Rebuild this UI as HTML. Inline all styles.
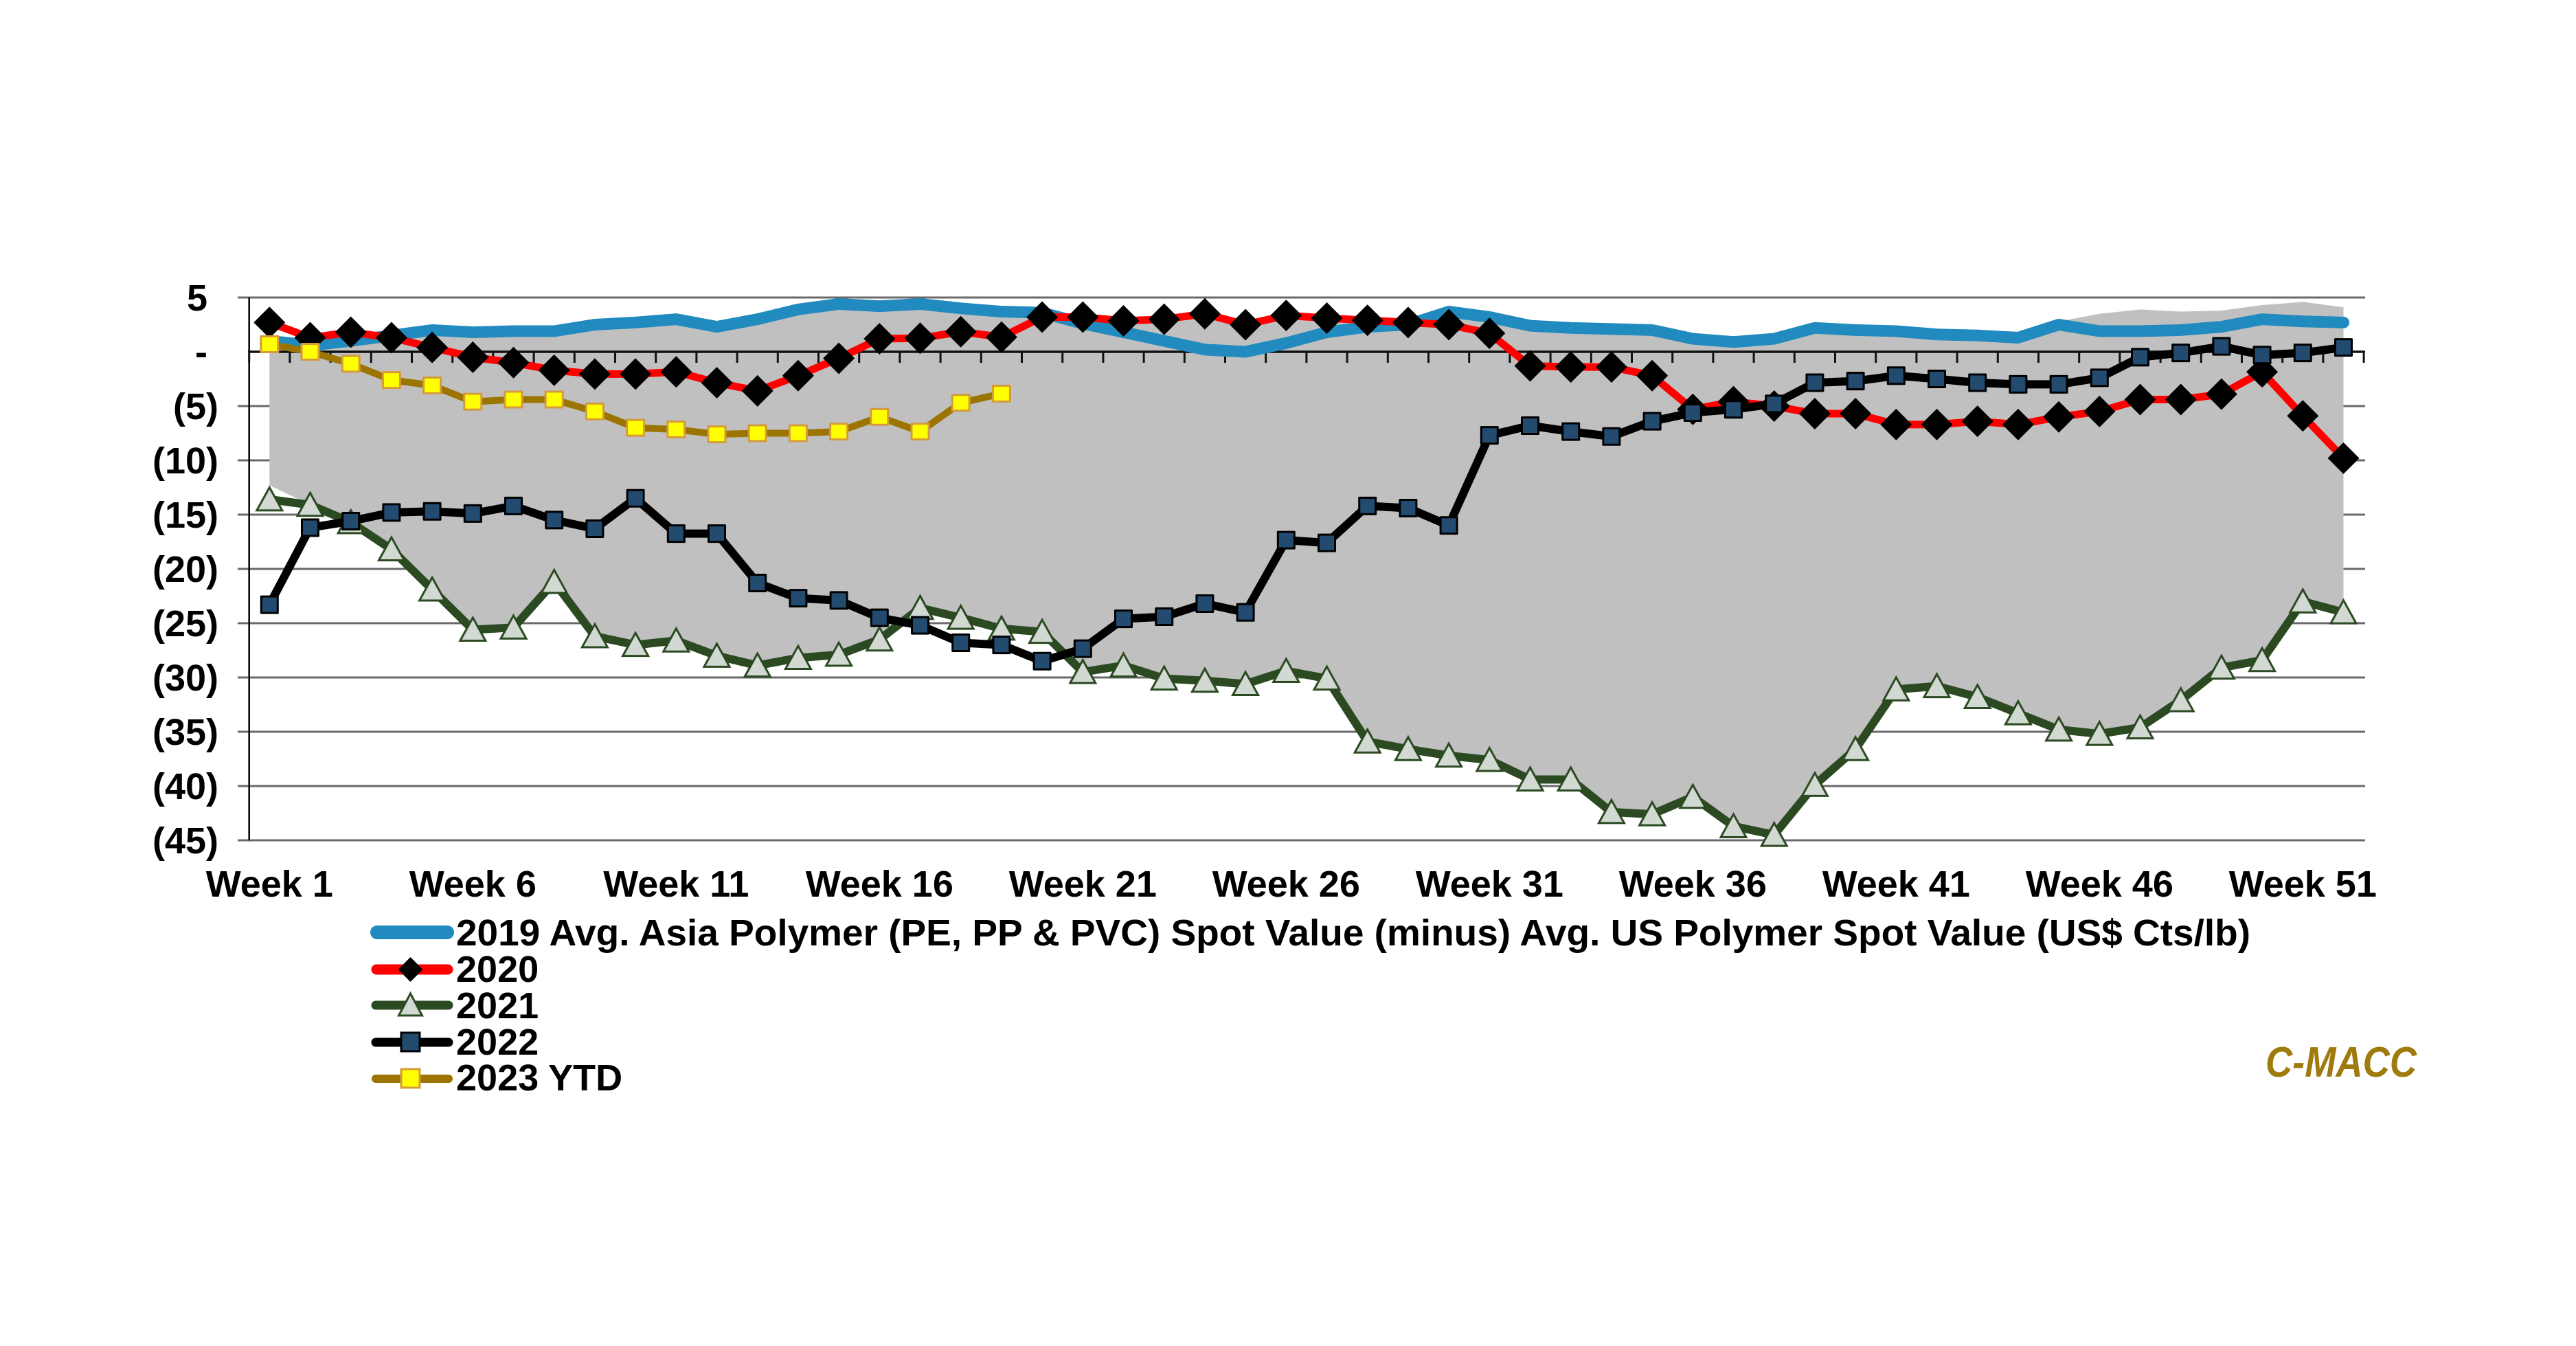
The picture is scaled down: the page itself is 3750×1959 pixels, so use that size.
<!DOCTYPE html>
<html>
<head>
<meta charset="utf-8">
<style>
html,body{margin:0;padding:0;background:#fff;}
svg{display:block;}
</style>
</head>
<body>
<svg xmlns="http://www.w3.org/2000/svg" xmlns:xlink="http://www.w3.org/1999/xlink" width="3750" height="1959" viewBox="0 0 3750 1959" font-family="'Liberation Sans', Arial, sans-serif">
<defs>
  <path id="Dm" transform="scale(.0168919 -.0632911)" d="M0,-23L23,0L0,23L-23,0Z" fill="#000"/>
  <path id="Tm" transform="scale(.0168919 -.0632911)" d="M0,-17.5L18.5,16L-18.5,16Z" fill="#d2d9d2" stroke="#2b4a22" stroke-width="3" stroke-linejoin="miter"/>
  <rect id="Sm" transform="scale(.0168919 -.0632911)" x="-12" y="-12" width="24" height="24" fill="#234a6f" stroke="#000" stroke-width="3"/>
  <rect id="Ym" transform="scale(.0168919 -.0632911)" x="-12.5" y="-11.5" width="25" height="23" fill="#ffff00" stroke="#d49a3c" stroke-width="3"/>
</defs>

<rect x="0" y="0" width="3750" height="1959" fill="#fff"/>

<!-- gridlines -->
<g stroke="#6a6a6a" stroke-width="3">
  <line x1="346" y1="433" x2="3443" y2="433"/>
  <line x1="346" y1="591" x2="3443" y2="591"/>
  <line x1="346" y1="670" x2="3443" y2="670"/>
  <line x1="346" y1="749" x2="3443" y2="749"/>
  <line x1="346" y1="828" x2="3443" y2="828"/>
  <line x1="346" y1="907" x2="3443" y2="907"/>
  <line x1="346" y1="986" x2="3443" y2="986"/>
  <line x1="346" y1="1065" x2="3443" y2="1065"/>
  <line x1="346" y1="1144" x2="3443" y2="1144"/>
  <line x1="346" y1="1223" x2="3443" y2="1223"/>
</g>

<g transform="translate(392.3 512) scale(59.2 -15.8)">
  <!-- gray range area -->
  <polygon fill="#c0c0c0" points="0,1.0 1,0.6 2,1.0 3,1.5 4,2.0 5,1.8 6,1.9 7,1.9 8,2.5 9,2.7 10,3.0 11,2.3 12,3.0 13,3.9 14,4.4 15,4.2 16,4.4 17,4.0 18,3.7 19,3.6 20,3.2 21,2.85 22,3.0 23,3.5 24,2.5 25,3.35 26,3.1 27,2.9 28,2.7 29,3.7 30,3.2 31,2.4 32,2.2 33,2.1 34,2.0 35,1.2 36,0.9 37,1.2 38,2.2 39,2.0 40,1.9 41,1.6 42,1.5 43,1.3 44,2.8 45,3.5 46,3.9 47,3.7 48,3.8 49,4.3 50,4.6 51,4.1 51,-24.0 50,-23.0 49,-28.4 48,-29.1 47,-32.1 46,-34.6 45,-35.2 44,-34.8 43,-33.3 42,-31.8 41,-30.8 40,-31.1 39,-36.6 38,-39.9 37,-44.5 36,-43.7 35,-41.0 34,-42.6 33,-42.4 32,-39.4 31,-39.4 30,-37.6 29,-37.2 28,-36.6 27,-35.9 26,-30.1 25,-29.4 24,-30.6 23,-30.3 22,-30.1 21,-28.9 20,-29.5 19,-25.8 18,-25.5 17,-24.5 16,-23.6 15,-26.5 14,-27.9 13,-28.2 12,-28.9 11,-28.0 10,-26.6 9,-27.0 8,-26.2 7,-21.2 6,-25.4 5,-25.6 4,-21.9 3,-18.2 2,-15.7 1,-14.1 0,-12.3"/>
</g>

<!-- axes -->
<line x1="362.7" y1="433" x2="362.7" y2="1223" stroke="#000" stroke-width="2.5"/>
<line x1="361" y1="512" x2="3443" y2="512" stroke="#111" stroke-width="3.5"/>
<line x1="361.2" y1="520" x2="3444" y2="520" stroke="#111" stroke-width="16" stroke-dasharray="3 56.2"/>

<g transform="translate(392.3 512) scale(59.2 -15.8)" fill="none" stroke-linejoin="round" stroke-linecap="round">
  <!-- 2019 -->
  <polyline vector-effect="non-scaling-stroke" stroke="#218abf" stroke-width="17" points="0,1.0 1,0.6 2,1.0 3,1.5 4,2.0 5,1.8 6,1.9 7,1.9 8,2.5 9,2.7 10,3.0 11,2.3 12,3.0 13,3.9 14,4.4 15,4.2 16,4.4 17,4.0 18,3.7 19,3.6 20,2.6 21,1.8 22,1.0 23,0.2 24,0.0 25,0.8 26,1.8 27,2.3 28,2.5 29,3.7 30,3.2 31,2.4 32,2.2 33,2.1 34,2.0 35,1.2 36,0.9 37,1.2 38,2.2 39,2.0 40,1.9 41,1.6 42,1.5 43,1.3 44,2.5 45,1.9 46,1.9 47,2.0 48,2.3 49,3.0 50,2.8 51,2.7"/>

  <!-- 2020 -->
  <polyline vector-effect="non-scaling-stroke" stroke="#ff0000" stroke-width="11" points="0,2.7 1,1.3 2,1.8 3,1.3 4,0.4 5,-0.5 6,-1.0 7,-1.7 8,-2.05 9,-2.05 10,-1.85 11,-2.85 12,-3.6 13,-2.2 14,-0.6 15,1.2 16,1.25 17,1.85 18,1.35 19,3.2 20,3.2 21,2.85 22,3.0 23,3.5 24,2.5 25,3.35 26,3.1 27,2.9 28,2.7 29,2.5 30,1.7 31,-1.3 32,-1.4 33,-1.4 34,-2.2 35,-5.3 36,-4.6 37,-5.0 38,-5.7 39,-5.7 40,-6.7 41,-6.7 42,-6.4 43,-6.7 44,-6.0 45,-5.5 46,-4.4 47,-4.4 48,-3.9 49,-1.85 50,-5.9 51,-9.8"/>
  <g>
    <use href="#Dm" x="0" y="2.7"/><use href="#Dm" x="1" y="1.3"/><use href="#Dm" x="2" y="1.8"/><use href="#Dm" x="3" y="1.3"/><use href="#Dm" x="4" y="0.4"/><use href="#Dm" x="5" y="-0.5"/><use href="#Dm" x="6" y="-1.0"/><use href="#Dm" x="7" y="-1.7"/><use href="#Dm" x="8" y="-2.05"/><use href="#Dm" x="9" y="-2.05"/><use href="#Dm" x="10" y="-1.85"/><use href="#Dm" x="11" y="-2.85"/><use href="#Dm" x="12" y="-3.6"/><use href="#Dm" x="13" y="-2.2"/><use href="#Dm" x="14" y="-0.6"/><use href="#Dm" x="15" y="1.2"/><use href="#Dm" x="16" y="1.25"/><use href="#Dm" x="17" y="1.85"/><use href="#Dm" x="18" y="1.35"/><use href="#Dm" x="19" y="3.2"/><use href="#Dm" x="20" y="3.2"/><use href="#Dm" x="21" y="2.85"/><use href="#Dm" x="22" y="3.0"/><use href="#Dm" x="23" y="3.5"/><use href="#Dm" x="24" y="2.5"/><use href="#Dm" x="25" y="3.35"/><use href="#Dm" x="26" y="3.1"/><use href="#Dm" x="27" y="2.9"/><use href="#Dm" x="28" y="2.7"/><use href="#Dm" x="29" y="2.5"/><use href="#Dm" x="30" y="1.7"/><use href="#Dm" x="31" y="-1.3"/><use href="#Dm" x="32" y="-1.4"/><use href="#Dm" x="33" y="-1.4"/><use href="#Dm" x="34" y="-2.2"/><use href="#Dm" x="35" y="-5.3"/><use href="#Dm" x="36" y="-4.6"/><use href="#Dm" x="37" y="-5.0"/><use href="#Dm" x="38" y="-5.7"/><use href="#Dm" x="39" y="-5.7"/><use href="#Dm" x="40" y="-6.7"/><use href="#Dm" x="41" y="-6.7"/><use href="#Dm" x="42" y="-6.4"/><use href="#Dm" x="43" y="-6.7"/><use href="#Dm" x="44" y="-6.0"/><use href="#Dm" x="45" y="-5.5"/><use href="#Dm" x="46" y="-4.4"/><use href="#Dm" x="47" y="-4.4"/><use href="#Dm" x="48" y="-3.9"/><use href="#Dm" x="49" y="-1.85"/><use href="#Dm" x="50" y="-5.9"/><use href="#Dm" x="51" y="-9.8"/>
  </g>

  <!-- 2021 -->
  <polyline vector-effect="non-scaling-stroke" stroke="#2b4a22" stroke-width="12" points="0,-13.6 1,-14.1 2,-15.7 3,-18.2 4,-21.9 5,-25.6 6,-25.4 7,-21.2 8,-26.2 9,-27.0 10,-26.6 11,-28.0 12,-28.9 13,-28.2 14,-27.9 15,-26.5 16,-23.6 17,-24.5 18,-25.5 19,-25.8 20,-29.5 21,-28.9 22,-30.1 23,-30.3 24,-30.6 25,-29.4 26,-30.1 27,-35.9 28,-36.6 29,-37.2 30,-37.6 31,-39.4 32,-39.4 33,-42.4 34,-42.6 35,-41.0 36,-43.7 37,-44.5 38,-39.9 39,-36.6 40,-31.1 41,-30.8 42,-31.8 43,-33.3 44,-34.8 45,-35.2 46,-34.6 47,-32.1 48,-29.1 49,-28.4 50,-23.0 51,-24.0"/>
  <g>
    <use href="#Tm" x="0" y="-13.6"/><use href="#Tm" x="1" y="-14.1"/><use href="#Tm" x="2" y="-15.7"/><use href="#Tm" x="3" y="-18.2"/><use href="#Tm" x="4" y="-21.9"/><use href="#Tm" x="5" y="-25.6"/><use href="#Tm" x="6" y="-25.4"/><use href="#Tm" x="7" y="-21.2"/><use href="#Tm" x="8" y="-26.2"/><use href="#Tm" x="9" y="-27.0"/><use href="#Tm" x="10" y="-26.6"/><use href="#Tm" x="11" y="-28.0"/><use href="#Tm" x="12" y="-28.9"/><use href="#Tm" x="13" y="-28.2"/><use href="#Tm" x="14" y="-27.9"/><use href="#Tm" x="15" y="-26.5"/><use href="#Tm" x="16" y="-23.6"/><use href="#Tm" x="17" y="-24.5"/><use href="#Tm" x="18" y="-25.5"/><use href="#Tm" x="19" y="-25.8"/><use href="#Tm" x="20" y="-29.5"/><use href="#Tm" x="21" y="-28.9"/><use href="#Tm" x="22" y="-30.1"/><use href="#Tm" x="23" y="-30.3"/><use href="#Tm" x="24" y="-30.6"/><use href="#Tm" x="25" y="-29.4"/><use href="#Tm" x="26" y="-30.1"/><use href="#Tm" x="27" y="-35.9"/><use href="#Tm" x="28" y="-36.6"/><use href="#Tm" x="29" y="-37.2"/><use href="#Tm" x="30" y="-37.6"/><use href="#Tm" x="31" y="-39.4"/><use href="#Tm" x="32" y="-39.4"/><use href="#Tm" x="33" y="-42.4"/><use href="#Tm" x="34" y="-42.6"/><use href="#Tm" x="35" y="-41.0"/><use href="#Tm" x="36" y="-43.7"/><use href="#Tm" x="37" y="-44.5"/><use href="#Tm" x="38" y="-39.9"/><use href="#Tm" x="39" y="-36.6"/><use href="#Tm" x="40" y="-31.1"/><use href="#Tm" x="41" y="-30.8"/><use href="#Tm" x="42" y="-31.8"/><use href="#Tm" x="43" y="-33.3"/><use href="#Tm" x="44" y="-34.8"/><use href="#Tm" x="45" y="-35.2"/><use href="#Tm" x="46" y="-34.6"/><use href="#Tm" x="47" y="-32.1"/><use href="#Tm" x="48" y="-29.1"/><use href="#Tm" x="49" y="-28.4"/><use href="#Tm" x="50" y="-23.0"/><use href="#Tm" x="51" y="-24.0"/>
  </g>

  <!-- 2022 -->
  <polyline vector-effect="non-scaling-stroke" stroke="#000" stroke-width="12" points="0,-23.3 1,-16.2 2,-15.6 3,-14.8 4,-14.7 5,-14.9 6,-14.2 7,-15.5 8,-16.3 9,-13.5 10,-16.75 11,-16.75 12,-21.3 13,-22.7 14,-22.9 15,-24.5 16,-25.2 17,-26.8 18,-27.0 19,-28.5 20,-27.35 21,-24.6 22,-24.4 23,-23.2 24,-24.0 25,-17.35 26,-17.6 27,-14.2 28,-14.4 29,-16.0 30,-7.7 31,-6.8 32,-7.35 33,-7.8 34,-6.4 35,-5.6 36,-5.3 37,-4.8 38,-2.85 39,-2.7 40,-2.2 41,-2.5 42,-2.85 43,-3.0 44,-3.0 45,-2.4 46,-0.5 47,-0.1 48,0.5 49,-0.3 50,-0.1 51,0.4"/>
  <g>
    <use href="#Sm" x="0" y="-23.3"/><use href="#Sm" x="1" y="-16.2"/><use href="#Sm" x="2" y="-15.6"/><use href="#Sm" x="3" y="-14.8"/><use href="#Sm" x="4" y="-14.7"/><use href="#Sm" x="5" y="-14.9"/><use href="#Sm" x="6" y="-14.2"/><use href="#Sm" x="7" y="-15.5"/><use href="#Sm" x="8" y="-16.3"/><use href="#Sm" x="9" y="-13.5"/><use href="#Sm" x="10" y="-16.75"/><use href="#Sm" x="11" y="-16.75"/><use href="#Sm" x="12" y="-21.3"/><use href="#Sm" x="13" y="-22.7"/><use href="#Sm" x="14" y="-22.9"/><use href="#Sm" x="15" y="-24.5"/><use href="#Sm" x="16" y="-25.2"/><use href="#Sm" x="17" y="-26.8"/><use href="#Sm" x="18" y="-27.0"/><use href="#Sm" x="19" y="-28.5"/><use href="#Sm" x="20" y="-27.35"/><use href="#Sm" x="21" y="-24.6"/><use href="#Sm" x="22" y="-24.4"/><use href="#Sm" x="23" y="-23.2"/><use href="#Sm" x="24" y="-24.0"/><use href="#Sm" x="25" y="-17.35"/><use href="#Sm" x="26" y="-17.6"/><use href="#Sm" x="27" y="-14.2"/><use href="#Sm" x="28" y="-14.4"/><use href="#Sm" x="29" y="-16.0"/><use href="#Sm" x="30" y="-7.7"/><use href="#Sm" x="31" y="-6.8"/><use href="#Sm" x="32" y="-7.35"/><use href="#Sm" x="33" y="-7.8"/><use href="#Sm" x="34" y="-6.4"/><use href="#Sm" x="35" y="-5.6"/><use href="#Sm" x="36" y="-5.3"/><use href="#Sm" x="37" y="-4.8"/><use href="#Sm" x="38" y="-2.85"/><use href="#Sm" x="39" y="-2.7"/><use href="#Sm" x="40" y="-2.2"/><use href="#Sm" x="41" y="-2.5"/><use href="#Sm" x="42" y="-2.85"/><use href="#Sm" x="43" y="-3.0"/><use href="#Sm" x="44" y="-3.0"/><use href="#Sm" x="45" y="-2.4"/><use href="#Sm" x="46" y="-0.5"/><use href="#Sm" x="47" y="-0.1"/><use href="#Sm" x="48" y="0.5"/><use href="#Sm" x="49" y="-0.3"/><use href="#Sm" x="50" y="-0.1"/><use href="#Sm" x="51" y="0.4"/>
  </g>

  <!-- 2023 YTD -->
  <polyline vector-effect="non-scaling-stroke" stroke="#9c7400" stroke-width="10" points="0,0.7 1,0 2,-1.1 3,-2.6 4,-3.1 5,-4.6 6,-4.4 7,-4.4 8,-5.5 9,-7.0 10,-7.15 11,-7.6 12,-7.5 13,-7.5 14,-7.35 15,-6.0 16,-7.35 17,-4.7 18,-3.85"/>
  <g>
    <use href="#Ym" x="0" y="0.7"/><use href="#Ym" x="1" y="0"/><use href="#Ym" x="2" y="-1.1"/><use href="#Ym" x="3" y="-2.6"/><use href="#Ym" x="4" y="-3.1"/><use href="#Ym" x="5" y="-4.6"/><use href="#Ym" x="6" y="-4.4"/><use href="#Ym" x="7" y="-4.4"/><use href="#Ym" x="8" y="-5.5"/><use href="#Ym" x="9" y="-7.0"/><use href="#Ym" x="10" y="-7.15"/><use href="#Ym" x="11" y="-7.6"/><use href="#Ym" x="12" y="-7.5"/><use href="#Ym" x="13" y="-7.5"/><use href="#Ym" x="14" y="-7.35"/><use href="#Ym" x="15" y="-6.0"/><use href="#Ym" x="16" y="-7.35"/><use href="#Ym" x="17" y="-4.7"/><use href="#Ym" x="18" y="-3.85"/>
  </g>
</g>

<!-- Y axis labels -->
<g font-size="54" font-weight="bold" fill="#000" text-anchor="end">
  <text x="302" y="452">5</text>
  <text x="302" y="531">-</text>
  <text x="318" y="610">(5)</text>
  <text x="318" y="689">(10)</text>
  <text x="318" y="768">(15)</text>
  <text x="318" y="847">(20)</text>
  <text x="318" y="926">(25)</text>
  <text x="318" y="1005">(30)</text>
  <text x="318" y="1084">(35)</text>
  <text x="318" y="1163">(40)</text>
  <text x="318" y="1242">(45)</text>
</g>

<!-- X axis labels -->
<g font-size="54" font-weight="bold" fill="#000" text-anchor="middle">
  <text x="392.3" y="1305">Week 1</text>
  <text x="688.3" y="1305">Week 6</text>
  <text x="984.3" y="1305">Week 11</text>
  <text x="1280.3" y="1305">Week 16</text>
  <text x="1576.3" y="1305">Week 21</text>
  <text x="1872.3" y="1305">Week 26</text>
  <text x="2168.3" y="1305">Week 31</text>
  <text x="2464.3" y="1305">Week 36</text>
  <text x="2760.3" y="1305">Week 41</text>
  <text x="3056.3" y="1305">Week 46</text>
  <text x="3352.3" y="1305">Week 51</text>
</g>

<!-- Legend -->
<g stroke-linecap="round">
  <line x1="549" y1="1357" x2="651" y2="1357" stroke="#218abf" stroke-width="20"/>
  <line x1="548" y1="1411" x2="652" y2="1411" stroke="#ff0000" stroke-width="15"/>
  <line x1="547" y1="1463" x2="653" y2="1463" stroke="#2b4a22" stroke-width="13"/>
  <line x1="547" y1="1517" x2="653" y2="1517" stroke="#000" stroke-width="13"/>
  <line x1="547" y1="1570" x2="653" y2="1570" stroke="#9c7400" stroke-width="12"/>
</g>
<path d="M597.5,1393L615.5,1411L597.5,1429L579.5,1411Z" fill="#000"/>
<path d="M597.5,1446L614.5,1478L580.5,1478Z" fill="#d2d9d2" stroke="#2b4a22" stroke-width="3"/>
<rect x="584" y="1503" width="27" height="27" fill="#234a6f" stroke="#000" stroke-width="3"/>
<rect x="584" y="1556" width="27" height="27" fill="#ffff00" stroke="#d49a3c" stroke-width="3"/>

<g font-size="54" font-weight="bold" fill="#000">
  <text x="664" y="1376" textLength="2612" lengthAdjust="spacingAndGlyphs">2019 Avg. Asia Polymer (PE, PP &amp; PVC) Spot Value (minus) Avg. US Polymer Spot Value (US$ Cts/lb)</text>
  <text x="664" y="1429">2020</text>
  <text x="664" y="1482">2021</text>
  <text x="664" y="1535">2022</text>
  <text x="664" y="1587">2023 YTD</text>
</g>

<!-- C-MACC -->
<text x="3298" y="1567" font-size="62" font-style="italic" font-weight="bold" fill="#9e7b0c" textLength="220" lengthAdjust="spacingAndGlyphs">C-MACC</text>
</svg>
</body>
</html>
